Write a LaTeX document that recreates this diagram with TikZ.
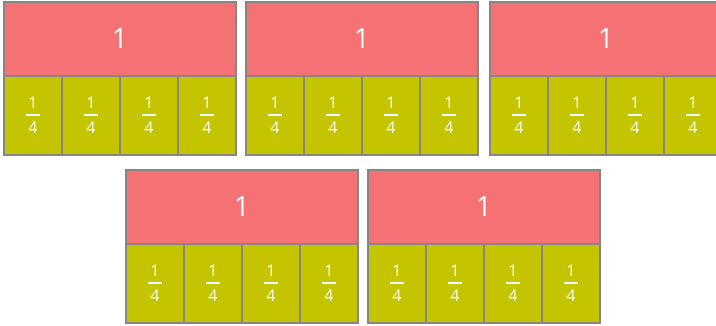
\documentclass[tikz,border=0pt]{standalone}
\usepackage{fontspec}
\setmainfont{Open Sans}
\usepackage{tikz}
\definecolor{wholeRed}{HTML}{F57274}
\definecolor{partOlive}{HTML}{C4C400}
\definecolor{edgeGray}{HTML}{868686}

% stacked quarter, digits set as text
\newcommand\quarter{\vbox{\hbox to 14pt{\hss 1\hss}\kern5pt
  \hrule height 2pt\kern6pt\hbox to 14pt{\hss 4\hss}}}

\begin{document}
\begin{tikzpicture}[
    x=1pt, y=-1pt,
    every node/.style={text=white, inner sep=0pt, outer sep=0pt},
    whole/.style={draw=edgeGray, line width=2pt, fill=wholeRed,
      minimum width=232pt, minimum height=74pt, font=\fontsize{28}{30}\selectfont},
    part/.style={draw=edgeGray, line width=2pt, fill=partOlive,
      minimum width=58pt, minimum height=79pt, font=\fontsize{16}{18}\selectfont},
  ]
  \clip (0,0) rectangle (716,326);

  % five bars, each one whole split in quarters
  \foreach \bx/\by/\n in {4/2/1, 246/2/2, 490/2/3, 126/170/4, 368/170/5} {
    \node[whole] (bar\n) at (\bx+116,\by+37) {1};
    \foreach \k in {1,...,4} {
      \node[part] (bar\n-\k) at (\bx+58*\k-29,\by+113.5) {\quarter};
    }
  }
\end{tikzpicture}
\end{document}
